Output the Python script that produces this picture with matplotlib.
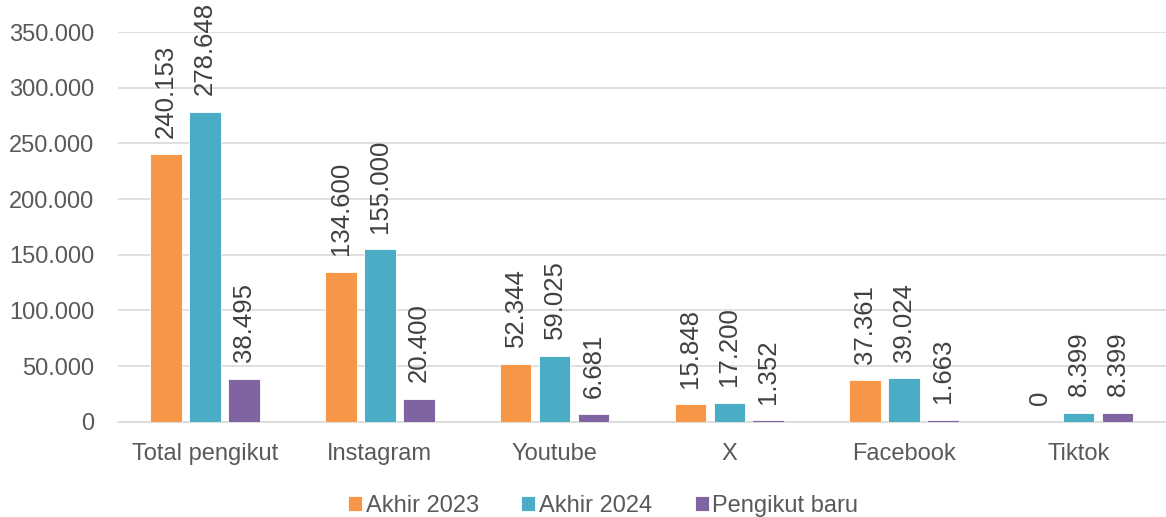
import numpy as np
import matplotlib.pyplot as plt
from matplotlib.ticker import FuncFormatter

categories = ["Total pengikut", "Instagram", "Youtube", "X", "Facebook", "Tiktok"]
akhir_2023 = [240153, 134600, 52344, 15848, 37361, 0]
akhir_2024 = [278648, 155000, 59025, 17200, 39024, 8399]
pengikut_baru = [38495, 20400, 6681, 1352, 1663, 8399]

series = [("Akhir 2023", akhir_2023, "#F79646"),
          ("Akhir 2024", akhir_2024, "#4BACC6"),
          ("Pengikut baru", pengikut_baru, "#8064A2")]

plt.rcParams['font.family'] = ['Liberation Sans', 'DejaVu Sans']
text_color = "#595959"


def dots(v, pos=None):
    return f"{int(v):,}".replace(",", ".")


fig = plt.figure(figsize=(11.66, 5.17), dpi=100)
ax = fig.add_axes([0.101, 0.184, 0.899, 0.754])

x = np.arange(len(categories))
width = 0.18
step = 0.223

for i, (name, vals, color) in enumerate(series):
    pos = x + (i - 1) * step
    bars = ax.bar(pos, vals, width, color=color, label=name, edgecolor="white", linewidth=0.6, zorder=3)
    for b, v in zip(bars, vals):
        ax.annotate(dots(v), (b.get_x() + b.get_width() / 2, b.get_height()),
                    xytext=(0, 12), textcoords="offset points", rotation=90,
                    ha="center", va="bottom", fontsize=18.5, color="#404040")

ax.set_xlim(-0.5, len(categories) - 0.5)
ax.set_ylim(0, 350000)
ax.set_yticks(np.arange(0, 350001, 50000))
ax.yaxis.set_major_formatter(FuncFormatter(dots))
ax.set_xticks(x)
ax.set_xticklabels(categories)
ax.grid(axis="y", color="#D9D9D9", linewidth=1.2, zorder=0)
for s in ["top", "right", "left"]:
    ax.spines[s].set_visible(False)
ax.spines["bottom"].set_color("#D9D9D9")
ax.spines["bottom"].set_linewidth(1.2)
ax.tick_params(axis="both", length=0, labelsize=17, colors=text_color)
ax.tick_params(axis="x", pad=15)
ax.tick_params(axis="y", pad=17)

ax.legend(loc="center", bbox_to_anchor=(0.463, -0.216), ncol=3, frameon=False,
          fontsize=17, labelcolor=text_color, handlelength=0.6, handleheight=0.6,
          handletextpad=0.15, columnspacing=1.8)

fig.savefig("out.png", dpi=100)
